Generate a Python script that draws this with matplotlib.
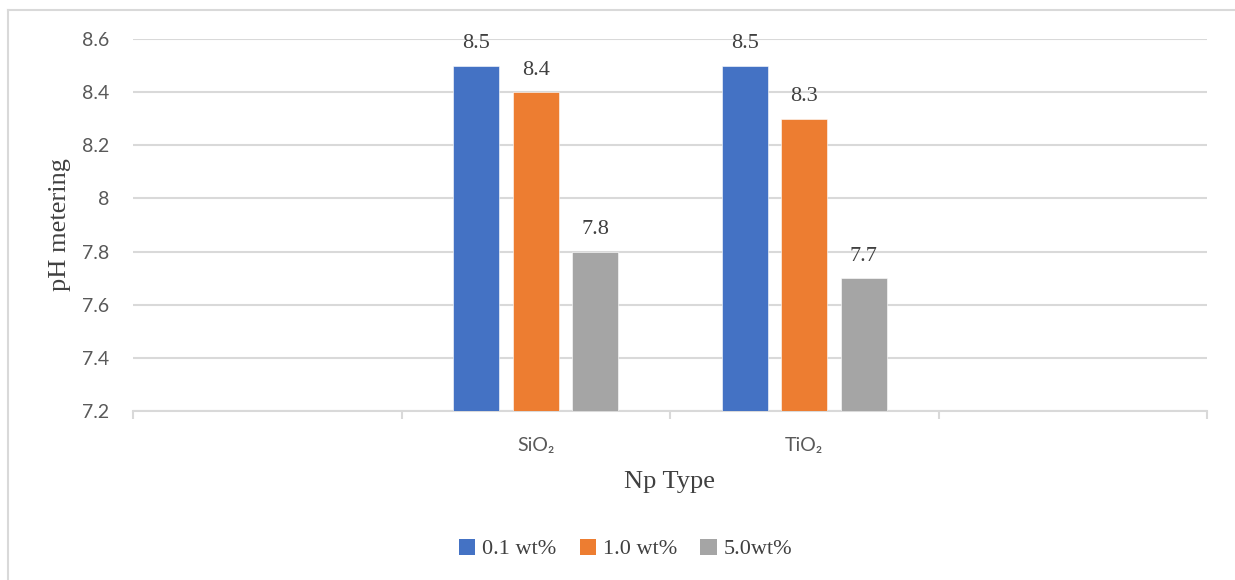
import numpy as np
import matplotlib
matplotlib.use("Agg")
import matplotlib.pyplot as plt
from matplotlib.lines import Line2D
from matplotlib.patches import Patch

# Categories along the x axis (the outer two are empty slots)
categories = ["", "SiO\u2082", "TiO\u2082", ""]
series_names = ["0.1 wt%", "1.0 wt%", "5.0wt%"]
ph_01 = [np.nan, 8.5, 8.5, np.nan]
ph_10 = [np.nan, 8.4, 8.3, np.nan]
ph_50 = [np.nan, 7.8, 7.7, np.nan]
y_ticks = [7.2, 7.4, 7.6, 7.8, 8.0, 8.2, 8.4, 8.6]
y_tick_labels = ["7.2", "7.4", "7.6", "7.8", "8", "8.2", "8.4", "8.6"]

colors = ["#4472C4", "#ED7D31", "#A5A5A5"]
grid_color = "#D9D9D9"
tick_color = "#595959"
text_color = "#404040"
sans = ["Lato", "DejaVu Sans"]
serif = ["Liberation Serif", "DejaVu Serif"]

fig = plt.figure(figsize=(12.35, 5.8), dpi=100)
ax = fig.add_axes([133 / 1235, 1 - 411 / 580, (1207 - 133) / 1235, (411 - 39) / 580])

x = np.arange(len(categories))
bar_w = 0.172
step = 0.222
all_series = [ph_01, ph_10, ph_50]
base = y_ticks[0]
for i, (vals, col) in enumerate(zip(all_series, colors)):
    vals = np.asarray(vals, dtype=float)
    pos = x + (i - 1) * step
    ok = ~np.isnan(vals)
    ax.bar(pos[ok], vals[ok] - base, bottom=base, width=bar_w, color=col,
           edgecolor="white", linewidth=0.4, zorder=3)
    for px, v in zip(pos[ok], vals[ok]):
        ax.annotate(f"{v:g}", (px, v), xytext=(0, 9), textcoords="offset points",
                    ha="center", va="bottom", fontsize=16, family=serif,
                    color=text_color)

ax.set_ylim(y_ticks[0], y_ticks[-1])
ax.set_xlim(-0.5, len(categories) - 0.5)
ax.set_yticks(y_ticks)
ax.set_yticklabels(y_tick_labels, fontsize=14, family=sans, color=tick_color)
ax.tick_params(axis="y", length=0, pad=17)
ax.yaxis.grid(True, color=grid_color, linewidth=1.5, zorder=0)
ax.set_axisbelow(True)

# Category boundaries carry tick marks, names sit at the centres
ax.set_xticks(np.arange(len(categories) + 1) - 0.5)
ax.set_xticklabels([])
ax.tick_params(axis="x", which="major", length=6, width=1.5, color=grid_color, direction="out")
ax.set_xticks(x, minor=True)
ax.set_xticklabels(categories, minor=True, fontsize=14, family=sans, color=tick_color)
ax.tick_params(axis="x", which="minor", length=0, pad=19)

for s in ["top", "right", "left"]:
    ax.spines[s].set_visible(False)
ax.spines["bottom"].set_color(grid_color)
ax.spines["bottom"].set_linewidth(1.5)

ax.set_ylabel("pH metering", fontsize=19, family=serif, color=text_color, labelpad=8)
ax.set_xlabel("Np Type", fontsize=19, family=serif, color=text_color, labelpad=12)

handles = [Patch(facecolor=c, edgecolor="none") for c in colors]
fig.legend(handles, series_names, loc="center", bbox_to_anchor=(0.5065, 1 - 549 / 580),
           ncol=3, frameon=False, prop={"family": serif, "size": 16},
           handlelength=0.75, handleheight=0.75, handletextpad=0.3, columnspacing=1.05,
           labelcolor=text_color)

# Chart frame (top and left edges)
fig.add_artist(Line2D([8 / 1235, 1.0], [1 - 10 / 580, 1 - 10 / 580],
                      transform=fig.transFigure, color=grid_color, linewidth=1.5))
fig.add_artist(Line2D([8 / 1235, 8 / 1235], [0.0, 1 - 10 / 580],
                      transform=fig.transFigure, color=grid_color, linewidth=1.5))

fig.savefig("out.png", dpi=100, facecolor="white")
